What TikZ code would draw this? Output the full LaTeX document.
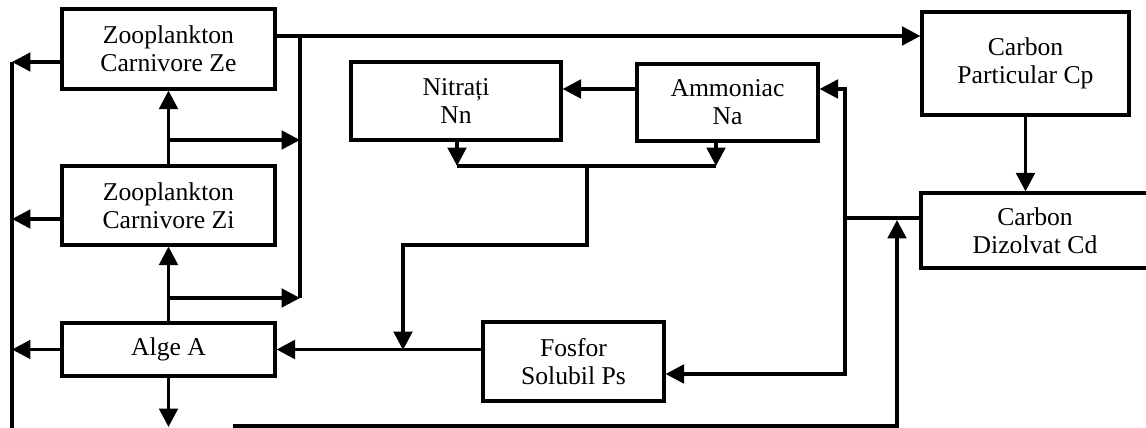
\documentclass[tikz,border=0pt]{standalone}
\usepackage{fontspec}
\setmainfont{Liberation Serif}
\usetikzlibrary{arrows.meta}

\tikzset{
  blok/.style={draw, line width=1.8pt, align=center, inner sep=0pt,
    font=\fontsize{14.6}{16}\selectfont},
}

\begin{document}
\begin{tikzpicture}[x=0.02cm, y=-0.02cm, line width=2.1pt,
    >={Triangle[length=10.5pt,width=10.5pt]}]
        \useasboundingbox (0,0) rectangle (1146,428);

        % boxes
        \node[blok, minimum width=4.26cm, minimum height=1.6cm] (ze) at (168.5,49) {Zooplankton\\Carnivore Ze};
        \node[blok, minimum width=4.26cm, minimum height=1.58cm] (zi) at (168.5,205.5) {Zooplankton\\Carnivore Zi};
        \node[blok, minimum width=4.26cm, minimum height=1.06cm] (alge) at (168.5,349.5) {Alge A};
        \node[blok, minimum width=4.2cm, minimum height=1.56cm] (nn) at (456,101) {Nitrați\\Nn};
        \node[blok, minimum width=3.62cm, minimum height=1.54cm] (na) at (727.5,102.5) {Ammoniac\\Na};
        \node[blok, minimum width=3.62cm, minimum height=1.58cm] (ps) at (573.5,361.5) {Fosfor\\Solubil Ps};
        \node[blok, minimum width=4.14cm, minimum height=2.06cm] (cp) at (1025.5,63.5) {Carbon\\Particular Cp};
        \node[blok, minimum width=4.56cm, minimum height=1.5cm] (cd) at (1035,230.5) {Carbon\\Dizolvat Cd};

        % junction points
        \coordinate (ltop) at (12,62);
        \coordinate (lzi) at (12,219);
        \coordinate (lbot) at (12,430);
        \coordinate (rtop) at (300,36);
        \coordinate (rmid) at (300,140);
        \coordinate (rbot) at (300,298);
        \coordinate (nnj) at (457,166);
        \coordinate (naj) at (716,166);
        \coordinate (nj) at (587,166);
        \coordinate (pj) at (403,350);
        \coordinate (vtop) at (845,89);
        \coordinate (vmid) at (845,218);
        \coordinate (vbot) at (845,374);
        \coordinate (adown) at (168.5,427);
        \coordinate (bstart) at (233,426);
        \coordinate (bcorner) at (897,426);
        \coordinate (bend) at (897,220);

        % left side
        \draw (ltop) -- (lbot);
        \draw[->] (ze.west |- ltop) -- (ltop);
        \draw[->] (zi.west |- lzi) -- (lzi);
        \draw[->] (alge.west) -- (alge.west -| ltop);
        \draw[->] (alge.north) -- (zi.south);
        \draw[->] (zi.north) -- (ze.south);
        \draw[->] (alge.south) -- (adown);

        % to carbon particular
        \draw[->] (ze.east |- rtop) -- (cp.west |- rtop);
        \draw (rtop) -- (rbot);
        \draw[->] (alge.north |- rmid) -- (rmid);
        \draw[->] (alge.north |- rbot) -- (rbot);

        % nitrogen
        \draw[->] (na.west |- vtop) -- (nn.east |- vtop);
        \draw[->] (nn.south -| nnj) -- (nnj);
        \draw[->] (na.south -| naj) -- (naj);
        \draw (nnj) -- (naj);
        \draw[->] (nj) -- (nj |- 0,245) -- (pj |- 0,245) -- (pj);
        \draw[->] (ps.west |- alge.east) -- (alge.east);

        % carbon
        \draw[->] (cp.south) -- (cp.south |- cd.north);
        \draw (cd.west |- vmid) -- (vmid);
        \draw[->] (vmid) -- (vtop) -- (na.east |- vtop);
        \draw[->] (vmid) -- (vbot) -- (ps.east |- vbot);
        \draw[->] (bstart) -- (bcorner) -- (bend);
      \end{tikzpicture}
\end{document}
